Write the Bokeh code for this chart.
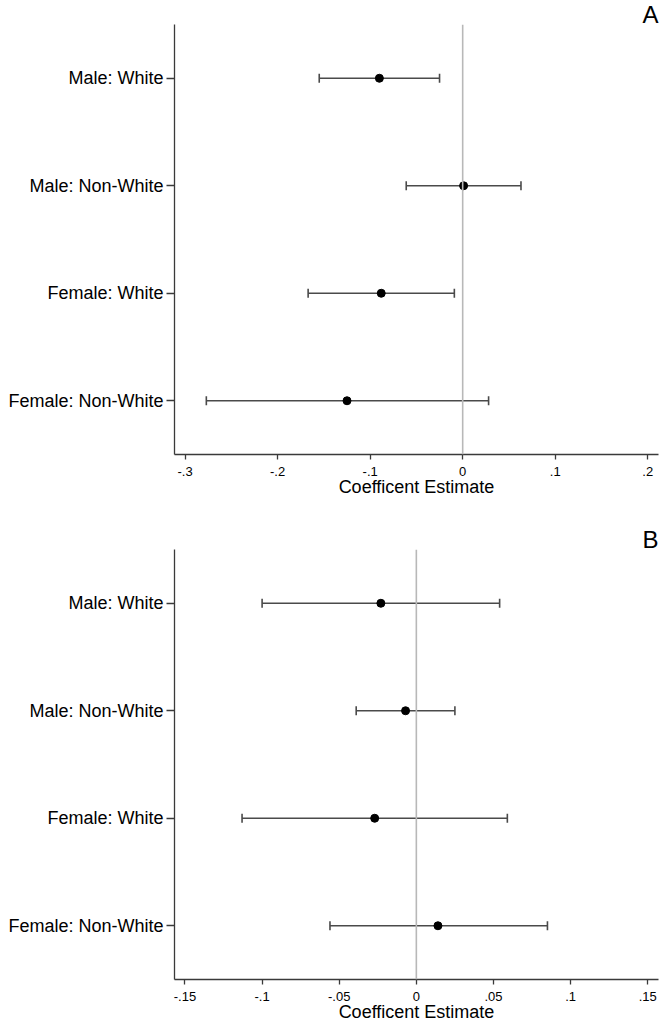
from bokeh.plotting import figure
from bokeh.models import Range1d, FactorRange, FixedTicker, Whisker, TeeHead, Span, ColumnDataSource
from bokeh.layouts import column
from bokeh.embed import file_html
from bokeh.resources import INLINE

# ---- data ----
categories = ["Male: White", "Male: Non-White", "Female: White", "Female: Non-White"]

a_est = [-0.090, 0.001, -0.088, -0.125]
a_low = [-0.155, -0.061, -0.167, -0.277]
a_high = [-0.025, 0.063, -0.009, 0.028]
a_ticks = [-0.3, -0.2, -0.1, 0.0, 0.1, 0.2]
a_tick_labels = ["-.3", "-.2", "-.1", "0", ".1", ".2"]
a_xlim = (-0.3114, 0.2116)

b_est = [-0.023, -0.007, -0.027, 0.014]
b_low = [-0.100, -0.039, -0.113, -0.056]
b_high = [0.054, 0.025, 0.059, 0.085]
b_ticks = [-0.15, -0.1, -0.05, 0.0, 0.05, 0.1, 0.15]
b_tick_labels = ["-.15", "-.1", "-.05", "0", ".05", ".1", ".15"]
b_xlim = (-0.1568, 0.157)

x_title = "Coefficent Estimate"
FONT = "Liberation Sans"
AXIS_COLOR = "#3a3a3a"
BAR_COLOR = "#4a4a4a"


def make_panel(est, low, high, ticks, tick_labels, xlim, letter, height, top, bottom):
    p = figure(width=659, height=height,
               y_range=FactorRange(factors=categories[::-1]),
               x_range=Range1d(*xlim),
               output_backend="svg", toolbar_location=None,
               min_border_left=174, min_border_right=1,
               min_border_top=top, min_border_bottom=bottom)
    p.outline_line_color = None
    p.xgrid.visible = False
    p.ygrid.visible = False
    p.background_fill_color = "white"
    p.border_fill_color = "white"

    p.title.text = letter
    p.title.align = "right"
    p.title.text_font = FONT
    p.title.text_font_size = "24px"
    p.title.text_font_style = "normal"
    p.title.text_color = "black"
    p.title.standoff = -6
    p.title.offset = 0

    src = ColumnDataSource(dict(cat=categories, est=est, low=low, high=high))

    p.add_layout(Span(location=0, dimension="height", line_color="#b8b8b8", line_width=1.6))

    w = Whisker(source=src, base="cat", lower="low", upper="high", dimension="width",
                line_color=BAR_COLOR, line_width=1.6,
                lower_head=TeeHead(size=9, line_color=BAR_COLOR, line_width=1.6),
                upper_head=TeeHead(size=9, line_color=BAR_COLOR, line_width=1.6))
    p.add_layout(w)

    p.scatter(x="est", y="cat", source=src, size=8, marker="circle",
              fill_color="black", line_color="black")

    # x axis
    xa = p.xaxis[0]
    xa.ticker = FixedTicker(ticks=ticks)
    xa.major_label_overrides = {t: l for t, l in zip(ticks, tick_labels)}
    xa.axis_label = x_title
    xa.axis_label_text_font = FONT
    xa.axis_label_text_font_size = "18px"
    xa.axis_label_text_font_style = "normal"
    xa.axis_label_text_color = "black"
    xa.axis_label_standoff = -2
    xa.major_label_text_font = FONT
    xa.major_label_text_font_size = "13px"
    xa.major_label_text_color = "black"
    xa.major_label_standoff = 7
    xa.major_tick_out = 5
    xa.major_tick_in = 0
    xa.minor_tick_out = 0
    xa.minor_tick_in = 0
    xa.axis_line_color = AXIS_COLOR
    xa.major_tick_line_color = AXIS_COLOR
    xa.axis_line_width = 1.3
    xa.major_tick_line_width = 1.3

    # y axis
    ya = p.yaxis[0]
    ya.major_label_text_font = FONT
    ya.major_label_text_font_size = "18px"
    ya.major_label_text_color = "black"
    ya.major_label_standoff = 3
    ya.major_tick_out = 8
    ya.major_tick_in = 0
    ya.axis_line_color = AXIS_COLOR
    ya.major_tick_line_color = AXIS_COLOR
    ya.axis_line_width = 1.3
    ya.major_tick_line_width = 1.3
    return p


pa = make_panel(a_est, a_low, a_high, a_ticks, a_tick_labels, a_xlim, "A",
                height=502, top=24, bottom=48)
pb = make_panel(b_est, b_low, b_high, b_ticks, b_tick_labels, b_xlim, "B",
                height=522, top=47, bottom=45)

layout = column(pa, pb, spacing=0)
open("out.html", "w").write(file_html(layout, INLINE))
